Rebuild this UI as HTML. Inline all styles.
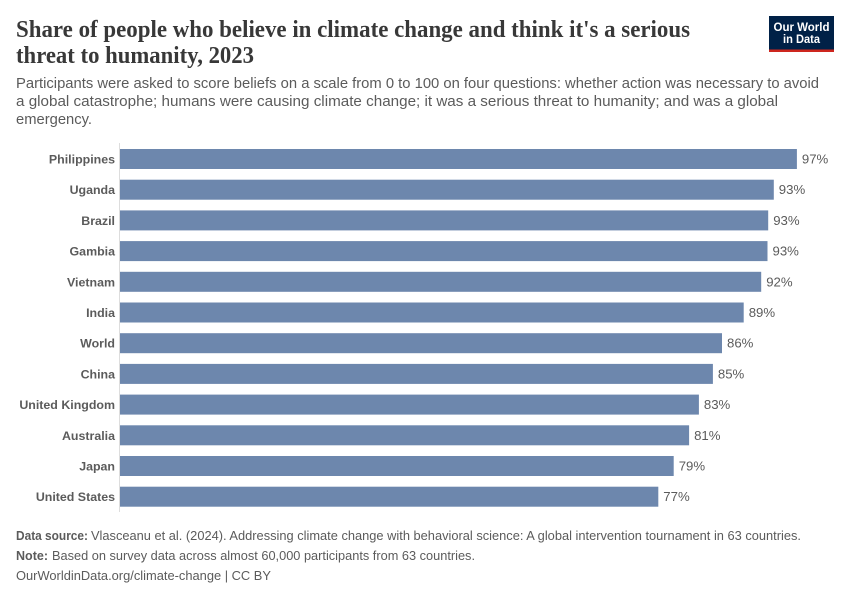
<!DOCTYPE html>
<html lang="en">
<head>
<meta charset="utf-8">
<title>Share of people who believe in climate change</title>
<style>
html,body{margin:0;padding:0;background:#fff;width:850px;height:600px;overflow:hidden}
svg{display:block}
text{font-family:"Liberation Sans",sans-serif}
.title{font-family:"Liberation Serif",serif;font-weight:700;font-size:24px;fill:#383838}
.sub{font-size:14.4px;fill:#5b5b5b}
.foot{font-size:12.8px;fill:#5b5b5b}
.foot-b{font-size:12.8px;fill:#5b5b5b;font-weight:700}
.cat{font-size:12.4px;font-weight:700;fill:#5b5b5b}
.val{font-size:13.2px;fill:#5b5b5b}
</style>
</head>
<body>
<svg id="chart" xmlns="http://www.w3.org/2000/svg" width="850" height="600" viewBox="0 0 850 600">
  <rect x="0" y="0" width="850" height="600" fill="#ffffff"/>
  <g>
    <text class="title" x="16" y="37" textLength="674" lengthAdjust="spacingAndGlyphs">Share of people who believe in climate change and think it's a serious</text>
    <text class="title" x="16" y="63" textLength="238" lengthAdjust="spacingAndGlyphs">threat to humanity, 2023</text>
  </g>
  <g>
    <text class="sub" x="16" y="88" textLength="803" lengthAdjust="spacingAndGlyphs">Participants were asked to score beliefs on a scale from 0 to 100 on four questions: whether action was necessary to avoid</text>
    <text class="sub" x="16" y="106" textLength="762" lengthAdjust="spacingAndGlyphs">a global catastrophe; humans were causing climate change; it was a serious threat to humanity; and was a global</text>
    <text class="sub" x="16" y="124" textLength="76" lengthAdjust="spacingAndGlyphs">emergency.</text>
  </g>
  <g>
    <rect x="769" y="16" width="65" height="36" fill="#002147"/>
    <rect x="769" y="49.5" width="65" height="2.5" fill="#ce261e"/>
    <text x="801.5" y="31" text-anchor="middle" font-size="11.5" font-weight="700" fill="#ffffff" textLength="56" lengthAdjust="spacingAndGlyphs">Our World</text>
    <text x="801.5" y="43" text-anchor="middle" font-size="11.5" font-weight="700" fill="#ffffff" textLength="37" lengthAdjust="spacingAndGlyphs">in Data</text>
  </g>
  <line x1="119.5" y1="143" x2="119.5" y2="512" stroke="#dddddd" stroke-width="1"/>
  <g id="bars"></g>
  <g>
    <text class="foot-b" x="16" y="540" textLength="72" lengthAdjust="spacingAndGlyphs">Data source:</text>
    <text class="foot" x="91" y="540" textLength="710" lengthAdjust="spacingAndGlyphs">Vlasceanu et al. (2024). Addressing climate change with behavioral science: A global intervention tournament in 63 countries.</text>
    <text class="foot-b" x="16" y="560" textLength="32" lengthAdjust="spacingAndGlyphs">Note:</text>
    <text class="foot" x="52" y="560" textLength="423" lengthAdjust="spacingAndGlyphs">Based on survey data across almost 60,000 participants from 63 countries.</text>
    <text class="foot" x="16" y="580" textLength="255" lengthAdjust="spacingAndGlyphs">OurWorldinData.org/climate-change | CC BY</text>
  </g>
</svg>
<script>
const categories = ["Philippines","Uganda","Brazil","Gambia","Vietnam","India","World","China","United Kingdom","Australia","Japan","United States"];
const shareValues = [96.7,93.4,92.6,92.5,91.6,89.1,86,84.7,82.7,81.3,79.1,76.9];

const NS = "http://www.w3.org/2000/svg";
const barsGroup = document.getElementById("bars");
const plotLeft = 120;
const pixelsPerUnit = 7;
const firstBarTop = 149;
const rowStep = 30.7;
const barHeight = 20;

function xScale(v){ return v * pixelsPerUnit; }
function yScale(i){ return firstBarTop + i * rowStep; }

categories.forEach(function(cat, i){
  const v = shareValues[i];
  const y = yScale(i);
  const w = xScale(v);

  const label = document.createElementNS(NS, "text");
  
  
  label.setAttribute("class", "cat");
  label.setAttribute("x", plotLeft - 5);
  label.setAttribute("y", y + barHeight / 2 + 4.5);
  label.setAttribute("text-anchor", "end");
  label.textContent = cat;
  barsGroup.appendChild(label);

  const bar = document.createElementNS(NS, "rect");
  
  
  bar.setAttribute("x", plotLeft);
  bar.setAttribute("y", y);
  bar.setAttribute("width", w);
  bar.setAttribute("height", barHeight);
  bar.setAttribute("fill", "#6d87ad");
  barsGroup.appendChild(bar);

  const val = document.createElementNS(NS, "text");
  
  
  val.setAttribute("class", "val");
  val.setAttribute("x", plotLeft + w + 5);
  val.setAttribute("y", y + barHeight / 2 + 4.5);
  val.textContent = Math.round(v) + "%";
  barsGroup.appendChild(val);
});
</script>
</body>
</html>
